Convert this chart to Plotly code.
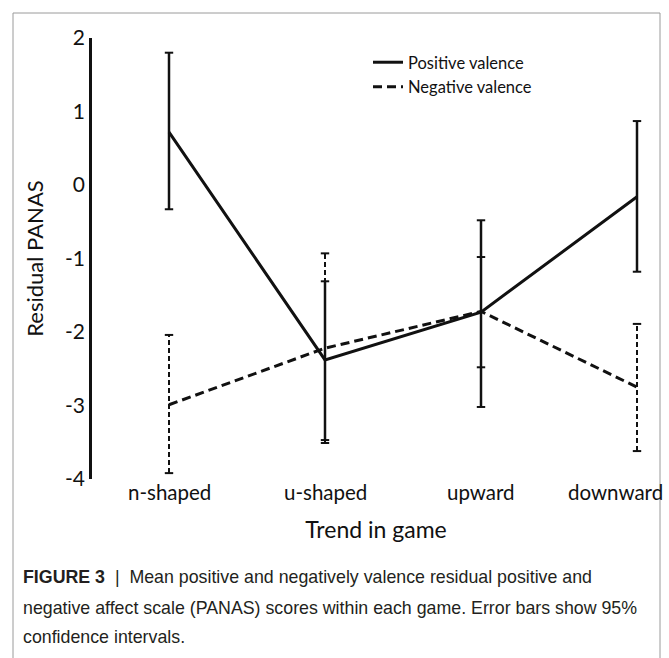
import plotly.graph_objects as go

# Trend categories and residual PANAS means with 95% CI bounds
categories = ["n-shaped", "u-shaped", "upward", "downward"]
pos_mean = [0.72, -2.38, -1.73, -0.16]
pos_upper = [1.80, -1.31, -0.48, 0.87]
pos_lower = [-0.33, -3.47, -3.02, -1.18]
neg_mean = [-2.99, -2.22, -1.72, -2.75]
neg_upper = [-2.04, -0.93, -0.98, -1.89]
neg_lower = [-3.92, -3.51, -2.48, -3.62]
y_ticks = [2, 1, 0, -1, -2, -3, -4]

W, H = 669, 658
L, R, T, B = 92, 9, 38, 179
PW, PH = W - L - R, H - T - B


def px(x):
    return (x - L) / PW


def py(y):
    return (H - B - y) / PH


xs = list(range(len(categories)))
FONT = "Lato, Carlito, Open Sans, sans-serif"
INK = "#111111"

fig = go.Figure()


def whiskers(lower, upper, dash, width):
    wx, wy = [], []
    for i, (lo, hi) in enumerate(zip(lower, upper)):
        wx += [i, i, None]
        wy += [lo, hi, None]
    fig.add_trace(go.Scatter(x=wx, y=wy, mode="lines", showlegend=False,
                             hoverinfo="skip",
                             line=dict(color=INK, width=width, dash=dash)))
    fig.add_trace(go.Scatter(x=xs + xs, y=list(lower) + list(upper), mode="markers",
                             showlegend=False, hoverinfo="skip",
                             marker=dict(symbol="line-ew", size=6,
                                         line=dict(color=INK, width=2))))


# negative valence first so the solid series sits on top
whiskers(neg_lower, neg_upper, "5px,3px", 2)
fig.add_trace(go.Scatter(x=xs, y=neg_mean, mode="lines", name="Negative valence",
                         legendrank=2,
                         line=dict(color=INK, width=3, dash="9px,5px")))
whiskers(pos_lower, pos_upper, "solid", 2.5)
fig.add_trace(go.Scatter(x=xs, y=pos_mean, mode="lines", name="Positive valence",
                         legendrank=1,
                         line=dict(color=INK, width=3)))

fig.update_layout(
    width=W, height=H,
    margin=dict(l=L, r=R, t=T, b=B, autoexpand=False),
    paper_bgcolor="white", plot_bgcolor="white",
    font=dict(family=FONT, color=INK),
    showlegend=True,
    legend=dict(x=px(368), y=py(45), xanchor="left", yanchor="top",
                bgcolor="rgba(0,0,0,0)", font=dict(size=16.5, family=FONT),
                tracegroupgap=0, traceorder="normal"),
    xaxis=dict(range=[(L - 169) / 156, (W - R - 169) / 156],
               tickvals=xs, ticktext=[""] * len(xs), showgrid=False, zeroline=False,
               showline=False, ticks="",
               title=dict(text="Trend in game", font=dict(size=23), standoff=42)),
    yaxis=dict(range=[-4, 2], tickvals=y_ticks, ticktext=[str(v) for v in y_ticks],
               showgrid=False, zeroline=False, showline=True, linecolor=INK,
               linewidth=2.5, ticks="", tickfont=dict(size=21),
               title=dict(text="Residual PANAS", font=dict(size=22), standoff=16)),
)

# category labels under each trend; the last one is nudged left to stay on the page
label_shift = [0, 0, 0, -22]
for i, (cat, dx) in enumerate(zip(categories, label_shift)):
    fig.add_annotation(text=cat, xref="x", yref="paper", x=i, y=py(492), xshift=dx,
                       xanchor="center", yanchor="middle", showarrow=False,
                       font=dict(family=FONT, size=20.5, color=INK))

# outer frame around the figure and caption
fig.add_shape(type="rect", xref="paper", yref="paper",
              x0=px(13), x1=px(660), y0=py(720), y1=py(13),
              line=dict(color="#9a9a9a", width=1), layer="below")

CAP = "Liberation Sans, Arial, sans-serif"
caption = [
    "<b>FIGURE 3</b>  |  Mean positive and negatively valence residual positive and",
    "negative affect scale (PANAS) scores within each game. Error bars show 95%",
    "confidence intervals.",
]
for line, yc in zip(caption, [577, 608, 637]):
    fig.add_annotation(text=line, xref="paper", yref="paper", x=px(21), y=py(yc),
                       xanchor="left", yanchor="middle", showarrow=False,
                       font=dict(family=CAP, size=17.8, color="#231f20"))

fig.write_html("out.html")
